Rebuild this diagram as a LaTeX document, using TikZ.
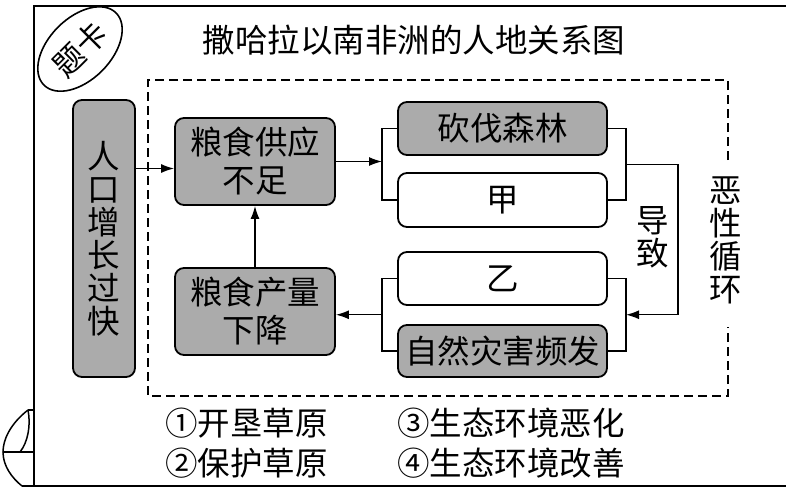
\documentclass[tikz,border=0pt]{standalone}
\usepackage{fontspec}
\setmainfont{Noto Sans CJK SC}
\usepackage{tikz}
\usetikzlibrary{arrows.meta}
\usetikzlibrary{shapes.geometric}
\usetikzlibrary{calc}

\newcommand\zifont{\fontsize{32.5}{38}\selectfont}
\newcommand\shufont{\fontsize{32.5}{33}\selectfont}

\begin{document}
\begin{tikzpicture}[x=1pt,y=-1pt,
    cardbox/.style={draw,line width=1.8pt,rounded corners=9pt,font=\zifont,align=center,inner sep=0pt},
    graybox/.style={cardbox,fill=black!33},
    whitebox/.style={cardbox,fill=white},
    conn/.style={line width=1.4pt},
    arr/.style={conn,-{Latex[length=13pt,width=9pt]}}]
    \useasboundingbox (0,0) rectangle (786,493);
    % card frame
    \draw[line width=2pt] (786,6) -- (34,6) -- (34,486);
    \draw[line width=2pt] (22,486) -- (786,486);
    \draw[line width=1.5pt] (28,410) -- (34,410);
    \draw[line width=1.5pt] (28,410) .. controls (10,424) and (3,440) .. (3,452)
      .. controls (3,466) and (12,478) .. (22,486);
    \draw[line width=1.5pt] (28,410) .. controls (31,425) and (28,442) .. (20,452);
    \draw[line width=1.5pt] (3,452) -- (34,452);
    \node[draw,ellipse,line width=1.6pt,rotate=45,minimum width=102,minimum height=62,
      font=\fontsize{31}{31}\selectfont,inner sep=0pt] (tika) at (80,49) {题卡};
    \node[font=\zifont] (title) at (414,40) {撒哈拉以南非洲的人地关系图};
    % dashed circle
    \draw[dashed,line width=1.5pt,dash pattern=on 9pt off 5pt]
      (728,160) -- (728,80) -- (148,80) -- (148,396) -- (728,396) -- (728,327);
    \node[font=\shufont,align=center,inner sep=0pt] (exun) at (726,240)
      {恶\\性\\循\\环};
    % boxes
    \node[graybox,minimum width=62,minimum height=277,font=\shufont]
      (renkou) at (104,238.5) {人\\口\\增\\长\\过\\快};
    \node[graybox,minimum width=160,minimum height=87] (gongying) at (255,161.5)
      {粮食供应\\不足};
    \node[graybox,minimum width=160,minimum height=87] (chanliang) at (255,311.5)
      {粮食产量\\下降};
    \node[graybox,minimum width=209,minimum height=53] (kanfa) at (502.5,128.5) {砍伐森林};
    \node[whitebox,minimum width=209,minimum height=54] (jia) at (502.5,200) {甲};
    \node[whitebox,minimum width=209,minimum height=53] (yi) at (502.5,278.5) {乙};
    \node[graybox,minimum width=209,minimum height=52] (zaihai) at (502.5,351) {自然灾害频发};
    \node[font=\shufont,align=center,inner sep=0pt] (daozhi) at (653,237) {导\\致};
    % connectors
    \coordinate (lbr) at (382,0);
    \coordinate (rbr) at (626,0);
    \coordinate (loop) at (678,0);
    \coordinate (in1) at ([yshift=-7pt]gongying.west);
    \draw[arr] (renkou.east |- in1) -- (in1);
    \draw[arr] (gongying.east) -- (gongying.east -| lbr);
    \draw[conn] (kanfa.west) -| (lbr |- jia.west) -- (jia.west);
    \draw[conn] (kanfa.east) -| (rbr |- jia.east) -- (jia.east);
    \draw[conn] (yi.west) -| (lbr |- zaihai.west) -- (zaihai.west);
    \draw[conn] (yi.east) -| (rbr |- zaihai.east) -- (zaihai.east);
    \coordinate (mid1) at ($(rbr |- kanfa.east)!0.5!(rbr |- jia.east)$);
    \coordinate (mid2) at ($(rbr |- yi.east)!0.5!(rbr |- zaihai.east)$);
    \coordinate (mid3) at ($(lbr |- yi.west)!0.5!(lbr |- zaihai.west)$);
    \draw[arr] (mid1) -| (loop |- mid2) -- (mid2);
    \draw[arr] (mid3) -- (chanliang.east |- mid3);
    \draw[arr] (chanliang.north) -- (gongying.south);
    % options
    \node[font=\zifont,anchor=west,inner sep=0pt] (opt1) at (165,423) {①开垦草原};
    \node[font=\zifont,anchor=west,inner sep=0pt] (opt2) at (165,463) {②保护草原};
    \node[font=\zifont,anchor=west,inner sep=0pt] (opt3) at (397,423) {③生态环境恶化};
    \node[font=\zifont,anchor=west,inner sep=0pt] (opt4) at (397,463) {④生态环境改善};
\end{tikzpicture}
\end{document}
